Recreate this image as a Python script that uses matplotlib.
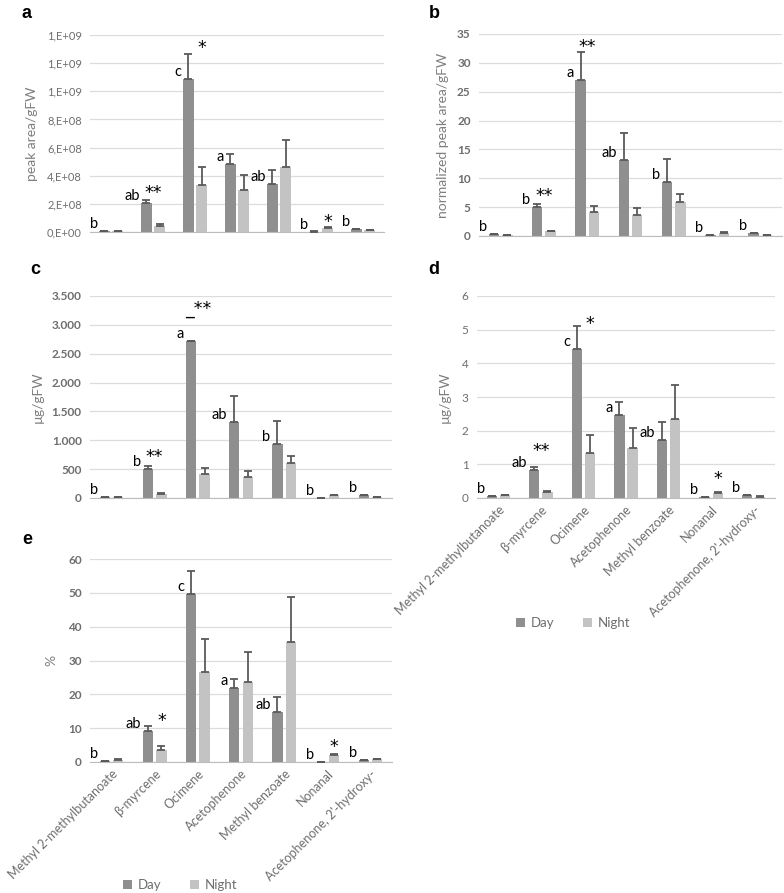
import matplotlib
matplotlib.use('Agg')
import matplotlib.pyplot as plt
import numpy as np

plt.rcParams['font.family'] = ['Lato', 'DejaVu Sans']

W, H = 784, 893

compounds = ['Methyl 2-methylbutanoate', 'β-myrcene', 'Ocimene', 'Acetophenone',
             'Methyl benzoate', 'Nonanal', "Acetophenone, 2'-hydroxy-"]

# panel a: peak area/gFW
day_a = [7e6, 2.05e8, 1.088e9, 4.82e8, 3.41e8, 3e6, 1.8e7]
day_a_err = [2e6, 2.5e7, 1.77e8, 7.4e7, 1.01e8, 1e6, 2e6]
night_a = [8e6, 4.5e7, 3.36e8, 2.96e8, 4.61e8, 2.8e7, 1.2e7]
night_a_err = [2e6, 1.5e7, 1.23e8, 1.11e8, 1.94e8, 1e7, 2e6]
letters_a = ['b', 'ab', 'c', 'a', 'ab', 'b', 'b']
stars_a = [(1, 2.77e8, '**'), (2, 1.305e9, '*'), (5, 7e7, '*')]
ticks_a = [0, 2e8, 4e8, 6e8, 8e8, 1.0e9, 1.2e9, 1.4e9]
ticklabels_a = ['0,E+00', '2,E+08', '4,E+08', '6,E+08', '8,E+08', '1,E+09', '1,E+09', '1,E+09']

# panel b: normalized peak area/gFW
day_b = [0.3, 5.0, 27.1, 13.1, 9.4, 0.1, 0.5]
day_b_err = [0.05, 0.5, 4.7, 4.7, 4.0, 0.05, 0.1]
night_b = [0.2, 0.8, 4.2, 3.7, 5.9, 0.6, 0.15]
night_b_err = [0.05, 0.1, 1.0, 1.1, 1.4, 0.1, 0.05]
letters_b = ['b', 'b', 'a', 'ab', 'b', 'b', 'b']
stars_b = [(1, 6.9, '**'), (2, 32.7, '**')]
ticks_b = [0, 5, 10, 15, 20, 25, 30, 35]
ticklabels_b = ['0', '5', '10', '15', '20', '25', '30', '35']

# panel c: µg/gFW
day_c = [20, 495, 2720, 1310, 940, 5, 50]
day_c_err = [5, 55, 0, 465, 400, 2, 5]
night_c = [10, 75, 415, 365, 600, 50, 15]
night_c_err = [2, 10, 110, 105, 125, 10, 3]
letters_c = ['b', 'b', 'a', 'ab', 'b', 'b', 'b']
stars_c = [(1, 713, '**'), (2, 3280, '_**')]
ticks_c = [0, 500, 1000, 1500, 2000, 2500, 3000, 3500]
ticklabels_c = ['0', '500', '1.000', '1.500', '2.000', '2.500', '3.000', '3.500']

# panel d: µg/gFW
day_d = [0.06, 0.82, 4.42, 2.47, 1.73, 0.02, 0.08]
day_d_err = [0.01, 0.11, 0.70, 0.38, 0.52, 0.01, 0.01]
night_d = [0.08, 0.17, 1.35, 1.50, 2.35, 0.14, 0.04]
night_d_err = [0.02, 0.05, 0.52, 0.58, 1.0, 0.04, 0.01]
letters_d = ['b', 'ab', 'c', 'a', 'ab', 'b', 'b']
stars_d = [(1, 1.40, '**'), (2, 5.16, '*'), (5, 0.56, '*')]
ticks_d = [0, 1, 2, 3, 4, 5, 6]
ticklabels_d = ['0', '1', '2', '3', '4', '5', '6']

# panel e: %
day_e = [0.3, 9.2, 49.7, 21.8, 14.8, 0.0, 0.6]
day_e_err = [0.1, 1.5, 6.9, 2.6, 4.5, 0.0, 0.1]
night_e = [0.7, 3.4, 26.5, 23.6, 35.6, 2.2, 0.8]
night_e_err = [0.1, 1.2, 9.8, 8.9, 13.1, 0.2, 0.1]
letters_e = ['b', 'ab', 'c', 'a', 'ab', 'b', 'b']
stars_e = [(1, 12.2, '*'), (5, 4.4, '*')]
ticks_e = [0, 10, 20, 30, 40, 50, 60]
ticklabels_e = ['0', '10', '20', '30', '40', '50', '60']

DAY_C = '#8f8f8f'
NIGHT_C = '#c3c3c3'
ERR_C = '#5a5a5a'
GRID_C = '#dcdcdc'
BW = 0.24
OFF = 0.155

fig = plt.figure(figsize=(W / 100, H / 100), dpi=100)


def add_ax(left, right, top, bottom):
    return fig.add_axes([left / W, 1 - bottom / H, (right - left) / W, (bottom - top) / H])


def panel(ax, day, day_err, night, night_err, letters, stars, ticks, ticklabels,
          ylabel, tick_bold, show_x, label_pad, tick_size=8.5):
    x = np.arange(len(compounds))
    ax.bar(x - OFF, day, BW, color=DAY_C, zorder=2, label='Day')
    ax.bar(x + OFF, night, BW, color=NIGHT_C, zorder=2, label='Night')
    z = np.zeros(len(x))
    ax.errorbar(x - OFF, day, yerr=[z, day_err], fmt='none', ecolor=ERR_C,
                elinewidth=1.3, capsize=3, capthick=1.3, zorder=3)
    ax.errorbar(x + OFF, night, yerr=[z, night_err], fmt='none', ecolor=ERR_C,
                elinewidth=1.3, capsize=3, capthick=1.3, zorder=3)
    for i, t in enumerate(letters):
        ax.text(x[i] - OFF - BW / 2 - 0.04, day[i], t, ha='right', va='bottom',
                fontsize=10.5, color='black')
    for i, y, t in stars:
        sx = x[i] if t.endswith('**') else x[i] + OFF
        ax.text(sx, y, t, ha='center', va='center', fontsize=12.5, color='black',
                family=['DejaVu Sans'])
    ax.set_xlim(-0.5, len(x) - 0.5)
    ax.set_ylim(ticks[0], ticks[-1])
    ax.set_yticks(ticks)
    ax.set_yticklabels(ticklabels, fontsize=tick_size, color='#6e6e6e',
                       fontweight='bold' if tick_bold else 'normal')
    ax.yaxis.grid(True, color=GRID_C, linewidth=0.9, zorder=0)
    ax.set_axisbelow(True)
    for s in ['top', 'right', 'left']:
        ax.spines[s].set_visible(False)
    ax.spines['bottom'].set_color('#bdbdbd')
    ax.tick_params(length=0, pad=6)
    ax.set_ylabel(ylabel, fontsize=10, color='#7f7f7f', labelpad=label_pad)
    ax.set_xticks(x)
    if show_x:
        ax.set_xticklabels(compounds, rotation=45, ha='right', rotation_mode='anchor',
                           fontsize=9, color='#6e6e6e')
        ax.tick_params(axis='x', pad=4)
    else:
        ax.set_xticklabels([])


ax_a = add_ax(90, 384, 35, 232)
panel(ax_a, day_a, day_a_err, night_a, night_a_err, letters_a, stars_a, ticks_a,
      ticklabels_a, 'peak area/gFW', False, False, 6, tick_size=8)
ax_b = add_ax(479, 782, 34, 236)
panel(ax_b, day_b, day_b_err, night_b, night_b_err, letters_b, stars_b, ticks_b,
      ticklabels_b, 'normalized peak area/gFW', True, False, 6)
ax_c = add_ax(90, 392, 296, 498)
panel(ax_c, day_c, day_c_err, night_c, night_c_err, letters_c, stars_c, ticks_c,
      ticklabels_c, 'µg/gFW', True, False, 6)
ax_d = add_ax(477, 775, 296, 498)
panel(ax_d, day_d, day_d_err, night_d, night_d_err, letters_d, stars_d, ticks_d,
      ticklabels_d, 'µg/gFW', False, True, 8)
ax_e = add_ax(90, 392, 559, 762)
panel(ax_e, day_e, day_e_err, night_e, night_e_err, letters_e, stars_e, ticks_e,
      ticklabels_e, '%', True, True, 8)

for ax, (lx, ly) in [(ax_d, (573, 623)), (ax_e, (180, 885))]:
    ax.legend(loc='center', bbox_to_anchor=(lx / W, 1 - ly / H), bbox_transform=fig.transFigure,
              ncol=2, frameon=False, fontsize=9.5, labelcolor='#6e6e6e', handlelength=0.7,
              handleheight=0.7, handletextpad=0.4, columnspacing=2.2)

for t, (px, py) in zip('abcde', [(27, 14), (434, 14), (35, 270), (434, 270), (27, 539)]):
    fig.text(px / W, 1 - py / H, t, fontsize=13, fontweight='bold', family='Liberation Sans',
             ha='center', va='center')

fig.savefig('out.png', dpi=100)
